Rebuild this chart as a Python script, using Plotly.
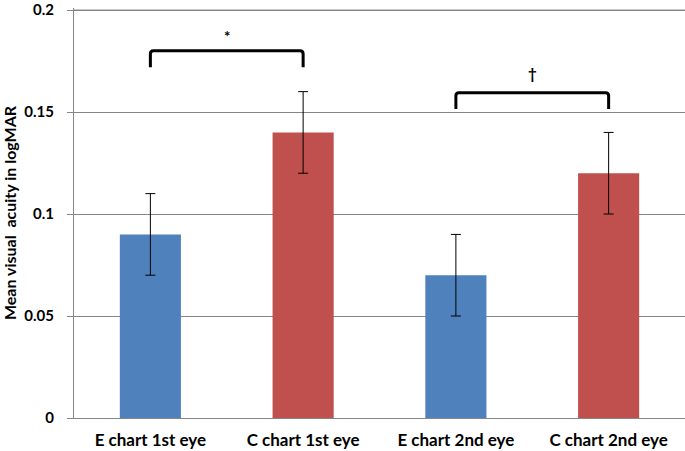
import plotly.graph_objects as go

categories = ["E chart 1st eye", "C chart 1st eye", "E chart 2nd eye", "C chart 2nd eye"]
values = [0.09, 0.14, 0.07, 0.12]
errors = [0.02, 0.02, 0.02, 0.02]
colors = ["#4F81BD", "#C0504D", "#4F81BD", "#C0504D"]
y_ticks = [0, 0.05, 0.1, 0.15, 0.2]
y_tick_labels = ["0", "0.05", "0.1", "0.15", "0.2"]

# significance brackets: (x0 index, x1 index, top y, arm bottom y, label, label y)
brackets = [
    (0, 1, 0.180, 0.172, "*", 0.1875),
    (2, 3, 0.1595, 0.1515, "†", 0.1690),
]

font = "Lato, 'Open Sans', sans-serif"

fig = go.Figure()
fig.add_trace(go.Bar(
    x=list(range(len(categories))),
    y=values,
    marker=dict(color=colors, line=dict(width=0)),
    width=0.4,
    error_y=dict(type="data", array=errors, visible=True, color="black",
                 thickness=1, width=5),
))

rx, ry = 0.02, 0.0015
for x0, x1, top, bottom, label, ly in brackets:
    path = (f"M {x0},{bottom} L {x0},{top - ry} Q {x0},{top} {x0 + rx},{top} "
            f"L {x1 - rx},{top} Q {x1},{top} {x1},{top - ry} L {x1},{bottom}")
    fig.add_shape(type="path", path=path, xref="x", yref="y",
                  line=dict(color="black", width=3))
    fig.add_annotation(x=(x0 + x1) / 2, y=ly, text=f"<b>{label}</b>", showarrow=False,
                       font=dict(family=font, size=15, color="black"))

# top gridline at the highest tick (kept visible at the plot edge)
fig.add_shape(type="line", x0=0, x1=1, xref="paper", y0=y_ticks[-1], y1=y_ticks[-1],
              yref="y", line=dict(color="#868686", width=1), layer="below")
# category boundary tick marks
for i in range(len(categories) + 1):
    fig.add_shape(type="line", x0=i - 0.5, x1=i - 0.5, y0=0, y1=-0.003,
                  xref="x", yref="y", line=dict(color="#868686", width=1))

fig.update_layout(
    width=685, height=451,
    margin=dict(l=74, r=0, t=8, b=33),
    plot_bgcolor="white", paper_bgcolor="white",
    showlegend=False,
    font=dict(family=font, color="black"),
)
fig.update_xaxes(
    range=[-0.5, 3.5],
    tickmode="array",
    tickvals=list(range(len(categories))),
    ticktext=[f"<b>{c}</b>" for c in categories],
    tickfont=dict(size=17, family=font, color="black"),
    showline=True, linecolor="#868686", linewidth=1,
    showgrid=False, zeroline=False,
    ticks="", automargin=False, ticklabelstandoff=7,
    ticklabeloverflow="allow",
)
fig.update_yaxes(
    range=[0, 0.201],
    tickmode="array",
    tickvals=y_ticks,
    ticktext=[f"<b>{t}</b>" for t in y_tick_labels],
    tickfont=dict(size=15, family=font, color="black"),
    showline=True, linecolor="#868686", linewidth=1,
    showgrid=True, gridcolor="#868686", gridwidth=1,
    zeroline=False, automargin=False,
    ticks="outside", ticklen=6, tickcolor="#868686", ticklabelstandoff=10,
    ticklabeloverflow="allow",
    title=dict(text="<b>Mean visual  acuity in logMAR</b>",
               font=dict(size=16, family=font, color="black"), standoff=4),
)
fig.write_html("out.html", config={"displayModeBar": False},
               post_script="document.body.style.margin='0';")
